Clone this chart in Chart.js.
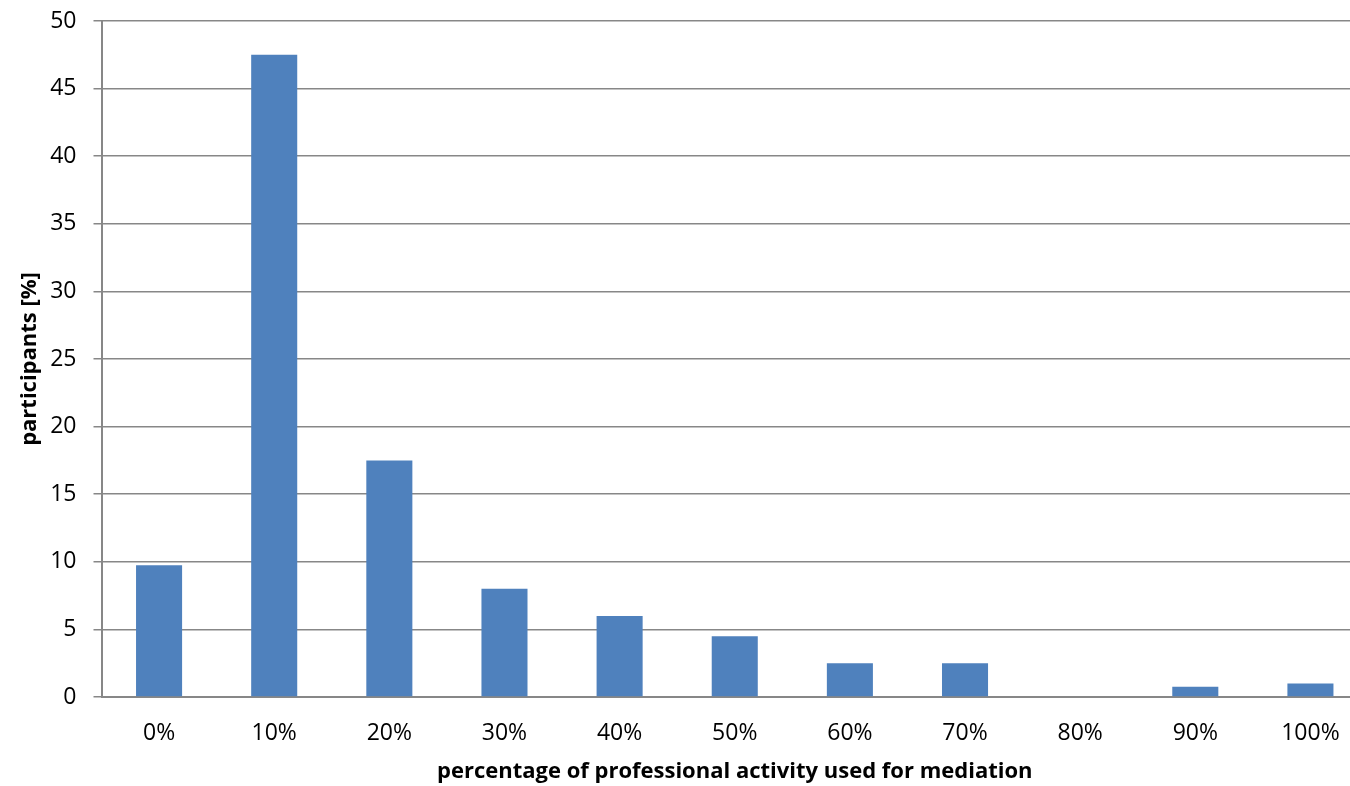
<!DOCTYPE html>
<html>
<head>
<meta charset="utf-8">
<script src="https://cdn.jsdelivr.net/npm/chart.js@4/dist/chart.umd.min.js"></script>
<style>
  html, body { margin: 0; padding: 0; background: #fff; overflow: hidden; }
  #wrap { width: 1368px; height: 786px; }
  canvas { display: block; }
</style>
</head>
<body>
<div id="wrap"><canvas id="c" width="1368" height="786"></canvas></div>
<script>
// Share of professional activity spent on mediation (categories)
const categories = ['0%', '10%', '20%', '30%', '40%', '50%', '60%', '70%', '80%', '90%', '100%'];
// Participants per category, in percent
const participants = [9.75, 47.5, 17.5, 8, 6, 4.5, 2.5, 2.5, 0, 0.75, 1];
// Y-axis range
const yMin = 0, yMax = 50, yStep = 5;

const gridGray = '#878787';
const fontFamily = '"Open Sans", "Liberation Sans", sans-serif';

new Chart(document.getElementById('c'), {
  type: 'bar',
  data: {
    labels: categories,
    datasets: [{
      data: participants,
      backgroundColor: '#4F81BD',
      borderWidth: 0,
      barPercentage: 0.4,
      categoryPercentage: 1.0
    }]
  },
  options: {
    responsive: false,
    animation: false,
    devicePixelRatio: 1,
    layout: { padding: { top: 21, right: 0, bottom: 0, left: 0 } },
    plugins: { legend: { display: false }, tooltip: { enabled: false } },
    scales: {
      x: {
        grid: { display: false, drawTicks: false },
        border: { display: true, color: gridGray, width: 2 },
        ticks: {
          color: '#000',
          padding: 23,
          maxRotation: 0,
          font: { family: fontFamily, size: 23 }
        },
        title: {
          display: true,
          text: 'percentage of professional activity used for mediation',
          color: '#000',
          font: { family: fontFamily, size: 22, weight: 'bold' },
          padding: { top: 0, bottom: 1 }
        },
        afterFit(scale) {
          scale.height = 89;
          scale.paddingLeft = 0;
          scale.paddingRight = 0;
        }
      },
      y: {
        min: yMin,
        max: yMax,
        grid: { color: gridGray, lineWidth: 1.5, tickLength: 8, drawTicks: true },
        border: { display: true, color: gridGray, width: 2 },
        ticks: {
          stepSize: yStep,
          color: '#000',
          padding: 17,
          font: { family: fontFamily, size: 23 }
        },
        title: {
          display: true,
          text: 'participants [%]',
          color: '#000',
          font: { family: fontFamily, size: 22, weight: 'bold' },
          padding: { top: 17, bottom: 0 }
        },
        afterFit(scale) {
          scale.width = 101.5;
          scale.paddingTop = 0;
          scale.paddingBottom = 0;
        }
      }
    }
  }
});
</script>
</body>
</html>
